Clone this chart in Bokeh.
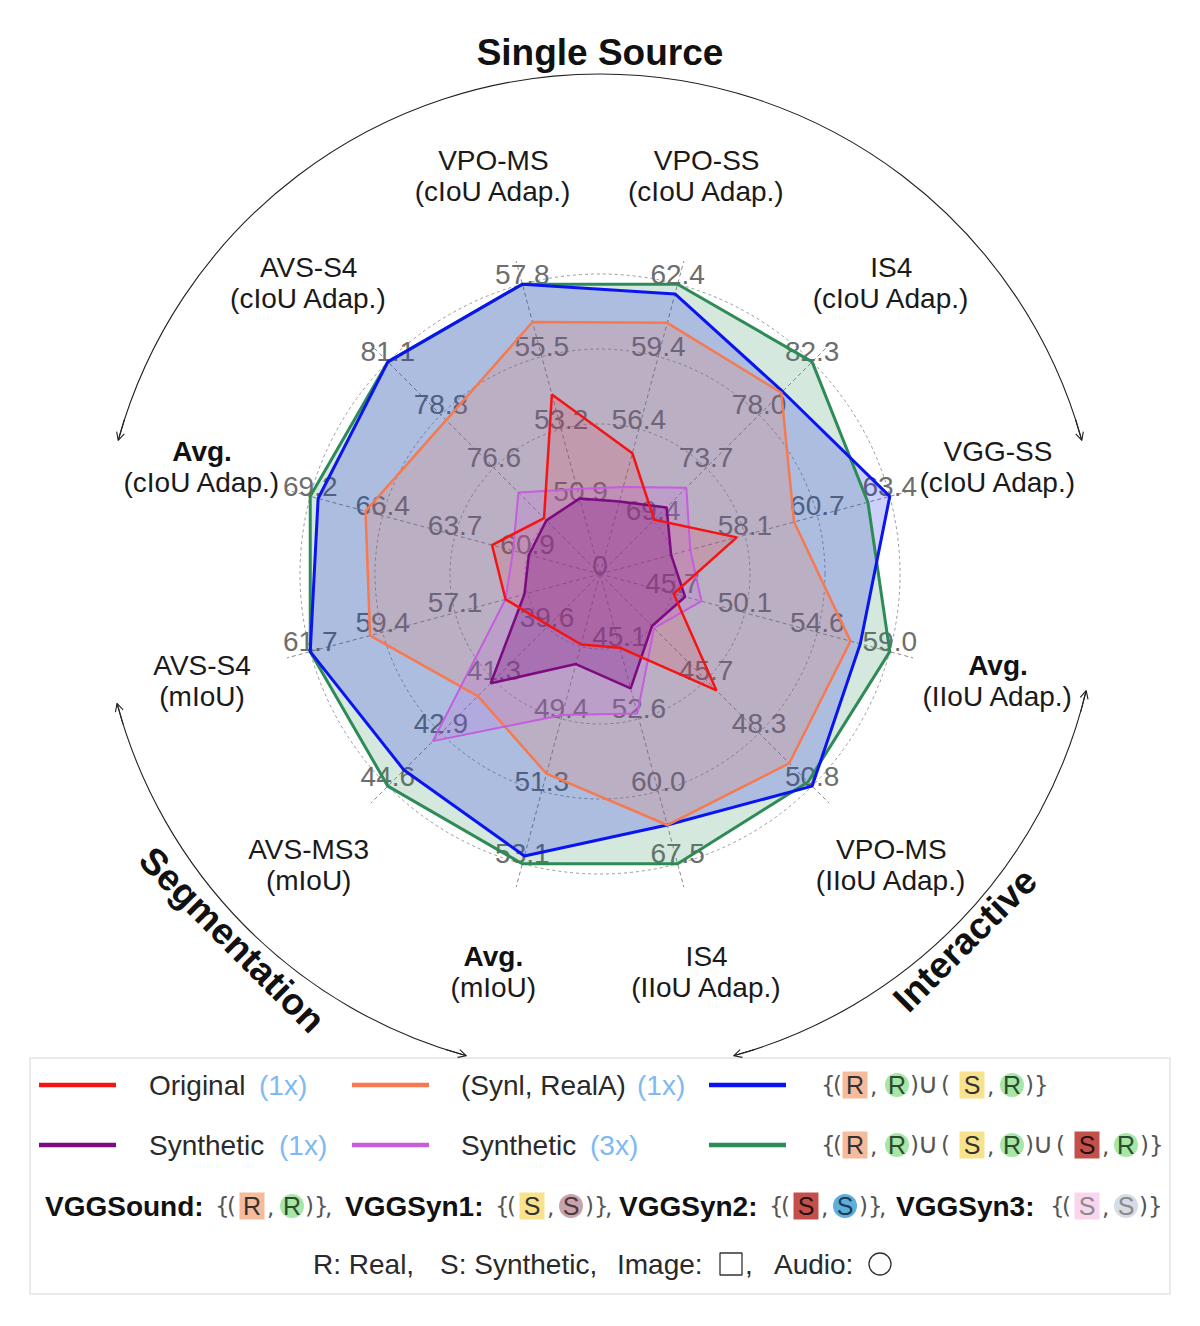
import math
from bokeh.plotting import figure
from bokeh.models import Range1d, Arrow, OpenHead
from bokeh.embed import file_html
from bokeh.resources import INLINE
from bokeh.core.properties import value

# ---------------- data ----------------
axis_names = ["Avg.", "AVS-S4", "VPO-MS", "VPO-SS", "IS4", "VGG-SS",
              "Avg.", "VPO-MS", "IS4", "Avg.", "AVS-MS3", "AVS-S4"]
axis_metrics = ["(cIoU Adap.)", "(cIoU Adap.)", "(cIoU Adap.)", "(cIoU Adap.)", "(cIoU Adap.)", "(cIoU Adap.)",
                "(IIoU Adap.)", "(IIoU Adap.)", "(IIoU Adap.)", "(mIoU)", "(mIoU)", "(mIoU)"]
axis_min = [58.2, 72.0, 48.6, 50.4, 65.1, 52.8, 41.3, 40.6, 37.6, 45.7, 38.0, 52.5]
axis_max = [69.2, 81.1, 57.8, 62.4, 82.3, 63.4, 59.0, 50.8, 67.5, 53.1, 44.6, 61.7]
tick_labels = [
    ["60.9", "63.7", "66.4", "69.2"],
    ["", "76.6", "78.8", "81.1"],
    ["50.9", "53.2", "55.5", "57.8"],
    ["", "56.4", "59.4", "62.4"],
    ["69.4", "73.7", "78.0", "82.3"],
    ["", "58.1", "60.7", "63.4"],
    ["45.7", "50.1", "54.6", "59.0"],
    ["", "45.7", "48.3", "50.8"],
    ["45.1", "52.6", "60.0", "67.5"],
    ["", "49.4", "51.3", "53.1"],
    ["39.6", "41.3", "42.9", "44.6"],
    ["", "57.1", "59.4", "61.7"],
]
original = [62.3, 74.4, 54.3, 55.4, 69.5, 57.8, 45.8, 46.2, 45.2, 47.5, 39.6, 55.5]
synl_reala = [67.1, 78.6, 56.6, 60.8, 79.8, 59.9, 56.6, 49.7, 63.5, 50.8, 41.8, 59.8]
union_rr_sr = [68.9, 81.1, 57.8, 62.0, 79.9, 63.4, 57.2, 50.8, 63.5, 52.9, 44.1, 61.7]
synthetic_1x = [60.9, 74.3, 51.0, 53.4, 70.5, 55.4, 46.5, 43.1, 49.4, 48.0, 41.4, 54.9]
synthetic_3x = [61.5, 75.5, 51.3, 54.0, 72.1, 56.1, 47.5, 43.2, 52.0, 49.3, 43.2, 55.5]
union_rr_sr_s2r = [69.2, 81.1, 57.8, 62.4, 82.3, 62.6, 59.0, 50.6, 67.5, 53.1, 44.6, 61.7]

# drawing order (bottom -> top)
series_values = [union_rr_sr_s2r, union_rr_sr, synl_reala, original, synthetic_3x, synthetic_1x]
series_colors = ["#2e8b57", "#0a14f0", "#f7794f", "#f51414", "#c55ddd", "#7d0a80"]
series_alpha = [0.2, 0.2, 0.2, 0.12, 0.2, 0.3]
series_widths = [3, 3, 2.5, 2.5, 2, 2.5]
line_order = [0, 1, 2, 4, 5, 3]   # red outline on top

group_titles = ["Single Source", "Interactive", "Segmentation"]

# ---------------- layout helpers ----------------
FONT = "Liberation Sans"
S = 300.0           # pixels per radar unit
CXP, CYP = 600, 574 # radar centre in page pixels
OFF = 0.5


def P(px, py):
    return (px - CXP) / S, (CYP - py) / S


def D(px):
    return px / S


n = len(axis_names)
theta = [math.radians(165 - 30 * i) for i in range(n)]

p = figure(width=1184, height=1310,
           x_range=Range1d((OFF - CXP) / S, (OFF + 1184 - CXP) / S),
           y_range=Range1d((CYP - 1310 - OFF) / S, (CYP - OFF) / S),
           output_backend="svg", toolbar_location=None, min_border=0)
p.axis.visible = False
p.grid.visible = False
p.outline_line_color = None
p.background_fill_color = "white"
p.border_fill_color = "white"

# rings and spokes
p.circle(x=[0] * 4, y=[0] * 4, radius=[0.25, 0.5, 0.75, 1.0], fill_color=None,
         line_color="#9a9a9a", line_dash="3 3", line_width=1)
p.multi_line(xs=[[0, 1.08 * math.cos(t)] for t in theta],
             ys=[[0, 1.08 * math.sin(t)] for t in theta],
             line_color="#8a8a8a", line_dash="4 3", line_width=1)

# tick labels
tx, ty, tt = [], [], []
for i, t in enumerate(theta):
    for k, lab in enumerate(tick_labels[i]):
        if lab:
            r = (k + 1) / 4
            tx.append(r * math.cos(t))
            ty.append(r * math.sin(t) + D(10))
            tt.append(lab)
tx.append(0); ty.append(D(9)); tt.append("0")
p.text(x=tx, y=ty, text=tt, text_font=value(FONT), text_font_size="28px",
       text_color="#6e6e6e", text_align="center", text_baseline="middle")

# series polygons: fills first, outlines after
poly = []
for vals in series_values:
    xs, ys = [], []
    for i, t in enumerate(theta):
        f = (vals[i] - axis_min[i]) / (axis_max[i] - axis_min[i])
        xs.append(f * math.cos(t))
        ys.append(f * math.sin(t))
    poly.append((xs, ys))
for (xs, ys), col, a in zip(poly, series_colors, series_alpha):
    p.patch(xs, ys, fill_color=col, fill_alpha=a, line_color=None)
for j in line_order:
    xs, ys = poly[j]
    p.patch(xs, ys, fill_color=None, line_color=series_colors[j], line_width=series_widths[j])

# category labels
RL = 412 / S
lx1, ly1, lt1, lx1b, ly1b, lt1b = [], [], [], [], [], []
lx2, ly2, lt2 = [], [], []
for i, t in enumerate(theta):
    x = RL * math.cos(t)
    y = RL * math.sin(t)
    if axis_names[i] == "Avg.":
        lx1b.append(x); ly1b.append(y + D(15.5)); lt1b.append(axis_names[i])
    else:
        lx1.append(x); ly1.append(y + D(15.5)); lt1.append(axis_names[i])
    lx2.append(x); ly2.append(y - D(15.5)); lt2.append(axis_metrics[i])
p.text(x=lx1, y=ly1, text=lt1, text_font=value(FONT), text_font_size="28px",
       text_color="#1a1a1a", text_align="center", text_baseline="middle")
p.text(x=lx1b, y=ly1b, text=lt1b, text_font=value(FONT), text_font_size="28px",
       text_font_style="bold", text_color="#111111", text_align="center", text_baseline="middle")
p.text(x=lx2, y=ly2, text=lt2, text_font=value(FONT), text_font_size="28px",
       text_color="#1a1a1a", text_align="center", text_baseline="middle")

# group arcs with arrow heads
RA = 500 / S
arcs = [(15.5, 164.5), (-74.5, -13.5), (-165.0, -105.5)]
for a1, a2 in arcs:
    p.arc(x=0, y=0, radius=RA, start_angle=math.radians(a1), end_angle=math.radians(a2),
          direction="anticlock", line_color="#222222", line_width=1.1)
    for ae, sgn in ((a1, 1), (a2, -1)):
        s_ang = math.radians(ae + sgn * 2.5)
        e_ang = math.radians(ae)
        p.add_layout(Arrow(end=OpenHead(size=8, line_width=1.1, line_color="#222222"),
                           x_start=RA * math.cos(s_ang), y_start=RA * math.sin(s_ang),
                           x_end=RA * math.cos(e_ang), y_end=RA * math.sin(e_ang),
                           line_width=1.1, line_color="#222222"))

# group titles
gx, gy = zip(P(600, 52), P(965, 940), P(232, 940))
p.text(x=list(gx), y=list(gy), text=group_titles, angle=[0, math.pi / 4, -math.pi / 4],
       text_font=value(FONT), text_font_size="37px", text_font_style="bold",
       text_color="#111111", text_align="center", text_baseline="middle")

# ---------------- legend ----------------
l0, t0 = P(30, 1058)
r0, b0 = P(1170, 1294)
p.quad(left=l0, right=r0, top=t0, bottom=b0, fill_color="white", line_color="#e3e3e3", line_width=1.5)

ROW1, ROW2, ROW3, ROW4 = 1085, 1145, 1206, 1264
leg_lines = [(39, ROW1, 3), (352, ROW1, 2), (709, ROW1, 1), (39, ROW2, 5), (352, ROW2, 4), (709, ROW2, 0)]
for xl, yl, si in leg_lines:
    a = P(xl, yl); b = P(xl + 77, yl)
    p.line([a[0], b[0]], [a[1], b[1]], line_color=series_colors[si], line_width=4.5)

LIGHT = "#7fb9f2"
TXT = "#2a2a2a"
pieces = [  # (left px, row px, text, colour, bold)
    (149, ROW1, "Original", TXT, False), (259, ROW1, "(1x)", LIGHT, False),
    (461, ROW1, "(Synl, RealA)", TXT, False), (637, ROW1, "(1x)", LIGHT, False),
    (149, ROW2, "Synthetic", TXT, False), (279, ROW2, "(1x)", LIGHT, False),
    (461, ROW2, "Synthetic", TXT, False), (590, ROW2, "(3x)", LIGHT, False),
    (313, ROW4, "R: Real,", TXT, False), (440, ROW4, "S: Synthetic,", TXT, False),
    (617, ROW4, "Image:", TXT, False), (745, ROW4, ",", TXT, False),
    (774, ROW4, "Audio:", TXT, False),
]

PEACH, LGREEN, YEL, MAUVE = "#f6ba9c", "#a6e6a6", "#f8e38c", "#c8a2ac"
DRED, SKY, PINK, LGREY = "#c4504c", "#5eafdc", "#f9d6ed", "#d6dce6"

boxes = []    # (center px, row px, colour, letter, letter colour)
circles = []
syms = []     # thin bracket glyphs (left px, row, text)
cups = []     # union symbols (centre px, row)

# rows 1 & 2 set notation
for row, extra in ((ROW1, False), (ROW2, True)):
    syms += [(821, row, "{"), (833, row, "(")]
    boxes.append((855, row, PEACH, "R", "#333333"))
    syms.append((870, row, ","))
    circles.append((897, row, LGREEN, "R", "#2d4d2d"))
    syms += [(910, row, ")"), (941, row, "(")]
    cups.append((928, row))
    boxes.append((972, row, YEL, "S", "#333333"))
    syms.append((987, row, ","))
    circles.append((1012, row, LGREEN, "R", "#2d4d2d"))
    if extra:
        syms += [(1025, row, ")"), (1056, row, "(")]
        cups.append((1043, row))
        boxes.append((1087, row, DRED, "S", "#2a1010"))
        syms.append((1102, row, ","))
        circles.append((1126, row, LGREEN, "R", "#2d4d2d"))
        syms += [(1140, row, ")"), (1149, row, "}")]
    else:
        syms += [(1025, row, ")"), (1034, row, "}")]

# row 3 datasets
groups = [("VGGSound:", 45, 215, 252, 292, 305, PEACH, "R", LGREEN, "R", "#333333", "#2d4d2d", True),
          ("VGGSyn1:", 345, 495, 532, 571, 585, YEL, "S", MAUVE, "S", "#333333", "#4a3a3e", True),
          ("VGGSyn2:", 619, 769, 806, 845, 859, DRED, "S", SKY, "S", "#2a1010", "#1d3c55", True),
          ("VGGSyn3:", 896, 1050, 1087, 1126, 1139, PINK, "S", LGREY, "S", "#8a8a8a", "#8a8a8a", False)]
for name, x0, xs0, bc, cc, xc0, c1, t1, c2, t2, k1, k2, comma in groups:
    pieces.append((x0, ROW3, name, "#111111", True))
    syms += [(xs0, ROW3, "{"), (xs0 + 12, ROW3, "(")]
    boxes.append((bc, ROW3, c1, t1, k1))
    syms.append((bc + 15, ROW3, ","))
    circles.append((cc, ROW3, c2, t2, k2))
    syms += [(xc0, ROW3, ")"), (xc0 + 9, ROW3, "}")]
    if comma:
        syms.append((xc0 + 20, ROW3, ","))

for xl, yl, txt, col, bold in pieces:
    x, y = P(xl, yl)
    p.text(x=[x], y=[y], text=[txt], text_font=value(FONT), text_font_size="28px",
           text_font_style="bold" if bold else "normal", text_color=col,
           text_align="left", text_baseline="middle")

sx = [P(a, b)[0] for a, b, _ in syms]
sy = [P(a, b)[1] for a, b, _ in syms]
p.text(x=sx, y=sy, text=[c for _, _, c in syms], text_font=value("DejaVu Sans"),
       text_font_size="23px", text_color="#555555", text_align="left", text_baseline="middle")
p.text(x=[P(a, b)[0] for a, b in cups], y=[P(a, b)[1] + D(2) for a, b in cups],
       text=["\u222a"] * len(cups), text_font=value("DejaVu Sans"),
       text_font_size="28px", text_color="#555555", text_align="center", text_baseline="middle")

for xc, yc, col, letter, lc in boxes:
    x, y = P(xc, yc)
    p.rect(x=[x], y=[y], width=D(25), height=D(27), fill_color=col, line_color=None)
    p.text(x=[x], y=[y], text=[letter], text_font=value(FONT), text_font_size="25px",
           text_color=lc, text_align="center", text_baseline="middle")
for xc, yc, col, letter, lc in circles:
    x, y = P(xc, yc)
    p.circle(x=[x], y=[y], radius=D(12), fill_color=col, line_color=None)
    p.text(x=[x], y=[y], text=[letter], text_font=value(FONT), text_font_size="25px",
           text_color=lc, text_align="center", text_baseline="middle")

# image / audio symbols
x, y = P(731, ROW4)
p.rect(x=[x], y=[y], width=D(22), height=D(22), fill_color=None, line_color="#333333", line_width=1.3)
x, y = P(880, ROW4)
p.circle(x=[x], y=[y], radius=D(11), fill_color=None, line_color="#333333", line_width=1.3)

open("out.html", "w").write(file_html(p, INLINE))
